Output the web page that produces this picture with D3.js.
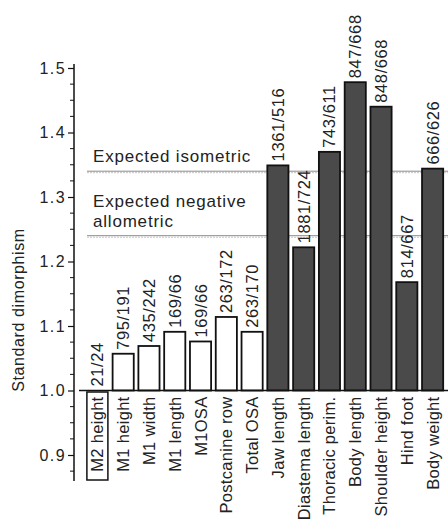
<!DOCTYPE html>
<html>
<head>
<meta charset="utf-8">
<script src="https://cdn.jsdelivr.net/npm/d3@7"></script>
<style>
  html, body { margin: 0; padding: 0; background: #fff; }
  svg { display: block; }
  text { font-family: "Liberation Sans", Arial, Helvetica, sans-serif; fill: #222; }
</style>
</head>
<body>
<svg id="chart" width="448" height="525"></svg>
<script>
const categories = ["M2 height","M1 height","M1 width","M1 length","M1OSA","Postcanine row","Total OSA",
  "Jaw length","Diastema length","Thoracic perim.","Body length","Shoulder height","Hind foot","Body weight"];
const values = [1.0, 1.057, 1.069, 1.091, 1.076, 1.114, 1.091,
  1.349, 1.222, 1.370, 1.478, 1.440, 1.168, 1.344];
const sampleLabels = ["21/24","795/191","435/242","169/66","169/66","263/172","263/170",
  "1361/516","1881/724","743/611","847/668","848/668","814/667","666/626"];
const groups = ["dental","dental","dental","dental","dental","dental","dental",
  "body","body","body","body","body","body","body"];
const boxedCategory = "M2 height";
const refValues = [1.34, 1.24];
const refLabels = [["Expected isometric"], ["Expected negative", "allometric"]];
const majorTicks = [0.9, 1.0, 1.1, 1.2, 1.3, 1.4, 1.5];
const minorTicks = d3.range(0, 25).map(i => 0.875 + i * 0.025);
const yTitle = "Standard dimorphism";

const data = categories.map((c, i) => ({ cat: c, value: values[i], label: sampleLabels[i], group: groups[i] }));

const svg = d3.select("#chart");
const y = d3.scaleLinear().domain([0.9, 1.5]).range([455, 68]);
const x = d3.scaleBand().domain(categories).range([84.5, 445.5]).paddingInner(0.18).paddingOuter(0.09);
const fills = { dental: "#ffffff", body: "#4a4a4a" };

// reference lines
refValues.forEach((v, i) => {
  svg.append("line").attr("x1", 87).attr("x2", 448).attr("y1", y(v)).attr("y2", y(v))
    .attr("stroke", "#8a8a8a").attr("stroke-width", 1);
  svg.append("line").attr("x1", 87).attr("x2", 448).attr("y1", y(v) + 1.5).attr("y2", y(v) + 1.5)
    .attr("stroke", "#c4c4c4").attr("stroke-width", 1).attr("stroke-dasharray", "2,1");
  const t = svg.append("text").attr("x", 93).attr("font-size", 17).attr("letter-spacing", "0.8px")
    .attr("fill", "#222");
  const lines = refLabels[i];
  lines.forEach((ln, j) => {
    t.append("tspan").attr("x", 93)
      .attr("y", y(v) - 9 - (lines.length - 1 - j) * 20)
      .text(ln);
  });
});

// bars
svg.append("g").selectAll("rect").data(data.filter(d => d.value > 1)).join("rect")
  .attr("x", d => x(d.cat))
  .attr("y", d => y(d.value))
  .attr("width", x.bandwidth())
  .attr("height", d => y(1.0) - y(d.value))
  .attr("fill", d => fills[d.group])
  .attr("stroke", "#111")
  .attr("stroke-width", 1.8);

// baseline at 1.0
svg.append("line").attr("x1", 79).attr("x2", 448).attr("y1", y(1.0)).attr("y2", y(1.0))
  .attr("stroke", "#111").attr("stroke-width", 1.3);

// value labels
svg.append("g").selectAll("text").data(data).join("text")
  .attr("transform", d => `translate(${x(d.cat) + x.bandwidth() / 2 + 6},${y(d.value) - 4}) rotate(-90)`)
  .attr("text-anchor", "start")
  .attr("font-size", 16.5)
  .attr("letter-spacing", "0.6px")
  .text(d => d.label);

// category labels
const catG = svg.append("g");
catG.selectAll("text").data(data).join("text")
  .attr("transform", d => `translate(${x(d.cat) + x.bandwidth() / 2 + 6},${y(1.0) + 6}) rotate(-90)`)
  .attr("text-anchor", "end")
  .attr("font-size", 16.5)
  .attr("letter-spacing", "0.3px")
  .text(d => d.cat);

// box around highlighted category label
const cx = x(boxedCategory) + x.bandwidth() / 2;
svg.append("rect")
  .attr("x", cx - 10.5).attr("y", y(1.0) + 1.5)
  .attr("width", 21).attr("height", 88)
  .attr("fill", "none").attr("stroke", "#111").attr("stroke-width", 1.5);

// y axis
const axisG = svg.append("g").attr("transform", "translate(74,0)");
axisG.append("line").attr("x1", 0).attr("x2", 0).attr("y1", 64).attr("y2", 481)
  .attr("stroke", "#111").attr("stroke-width", 1.5);
axisG.selectAll("line.minor").data(minorTicks.filter(t => majorTicks.every(m => Math.abs(m - t) > 1e-6)))
  .join("line").attr("class", "minor")
  .attr("x1", -4).attr("x2", 0).attr("y1", d => y(d)).attr("y2", d => y(d))
  .attr("stroke", "#111").attr("stroke-width", 1);
const majAxis = d3.axisLeft(y).tickValues(majorTicks).tickFormat(d3.format(".1f")).tickSize(6).tickSizeOuter(0).tickPadding(3);
const mg = axisG.append("g").call(majAxis);
mg.select(".domain").remove();
mg.selectAll(".tick line").attr("stroke", "#111").attr("stroke-width", 1.2);
mg.selectAll(".tick text").attr("font-size", 16).attr("letter-spacing", "1.4px")
  .attr("fill", "#333").attr("font-family", "Liberation Sans, Arial, sans-serif").attr("dx", "1px");

// y title
svg.append("text")
  .attr("transform", `translate(24,310) rotate(-90)`)
  .attr("text-anchor", "middle")
  .attr("font-size", 16)
  .attr("letter-spacing", "0.6px")
  .attr("fill", "#444")
  .text(yTitle);
</script>
</body>
</html>
